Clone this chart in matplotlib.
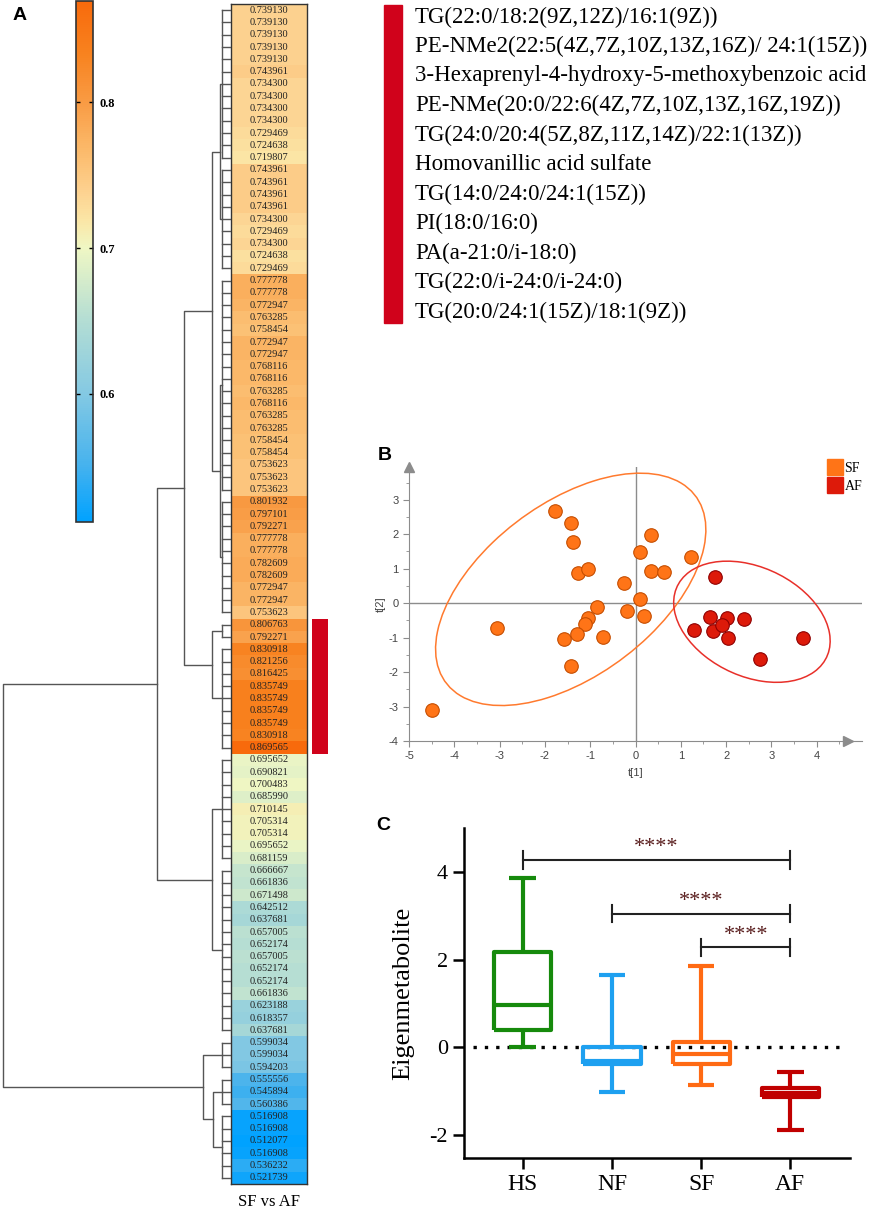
import numpy as np
import matplotlib.pyplot as plt
from matplotlib.colors import LinearSegmentedColormap, Normalize
from matplotlib.cm import ScalarMappable
from matplotlib.patches import Ellipse, Rectangle
from matplotlib.lines import Line2D

plt.rcParams['axes.unicode_minus'] = False

W, H = 872, 1211
SERIF = ['Liberation Serif', 'DejaVu Serif']
SANS = ['Liberation Sans', 'DejaVu Sans']

# ---- data -------------------------------------------------------------
# heatmap column (SF vs AF), top to bottom
values = [0.739130, 0.739130, 0.739130, 0.739130, 0.739130, 0.743961, 0.734300,
          0.734300, 0.734300, 0.734300, 0.729469, 0.724638, 0.719807, 0.743961,
          0.743961, 0.743961, 0.743961, 0.734300, 0.729469, 0.734300, 0.724638,
          0.729469, 0.777778, 0.777778, 0.772947, 0.763285, 0.758454, 0.772947,
          0.772947, 0.768116, 0.768116, 0.763285, 0.768116, 0.763285, 0.763285,
          0.758454, 0.758454, 0.753623, 0.753623, 0.753623, 0.801932, 0.797101,
          0.792271, 0.777778, 0.777778, 0.782609, 0.782609, 0.772947, 0.772947,
          0.753623, 0.806763, 0.792271, 0.830918, 0.821256, 0.816425, 0.835749,
          0.835749, 0.835749, 0.835749, 0.830918, 0.869565, 0.695652, 0.690821,
          0.700483, 0.685990, 0.710145, 0.705314, 0.705314, 0.695652, 0.681159,
          0.666667, 0.661836, 0.671498, 0.642512, 0.637681, 0.657005, 0.652174,
          0.657005, 0.652174, 0.652174, 0.661836, 0.623188, 0.618357, 0.637681,
          0.599034, 0.599034, 0.594203, 0.555556, 0.545894, 0.560386, 0.516908,
          0.516908, 0.512077, 0.516908, 0.536232, 0.521739]

# leaf groups of the row dendrogram (start, stop) and the merge tree
groups = {'A': (0, 13), 'B': (13, 22), 'C': (22, 40), 'D': (40, 50),
          'E1': (50, 52), 'E2': (52, 61), 'F': (61, 70), 'G': (70, 84),
          'H': (84, 87), 'I': (87, 90), 'J': (90, 96)}
comb_height = 9
tree = (228, (74, (47, (19, (11, 'A', 'B'), (11, 'C', 'D')), (19, 'E1', 'E2')),
              (19, 'F', 'G')),
        (28, 'H', (18, 'I', 'J')))
highlight = (50, 61)

metabolites = ['TG(22:0/18:2(9Z,12Z)/16:1(9Z))',
               'PE-NMe2(22:5(4Z,7Z,10Z,13Z,16Z)/ 24:1(15Z))',
               '3-Hexaprenyl-4-hydroxy-5-methoxybenzoic acid',
               'PE-NMe(20:0/22:6(4Z,7Z,10Z,13Z,16Z,19Z))',
               'TG(24:0/20:4(5Z,8Z,11Z,14Z)/22:1(13Z))',
               'Homovanillic acid sulfate',
               'TG(14:0/24:0/24:1(15Z))',
               'PI(18:0/16:0)',
               'PA(a-21:0/i-18:0)',
               'TG(22:0/i-24:0/i-24:0)',
               'TG(20:0/24:1(15Z)/18:1(9Z))']

# PCA scores
sf_x = [-4.50, -3.05, -1.78, -1.42, -1.37, -1.27, -1.05, -0.85, -0.18, 0.10, 0.35,
        0.35, 0.62, 1.22, -0.25, 0.11, 0.18, -1.05, -1.12, -1.30, -1.58, -1.42, -0.72]
sf_y = [-3.10, -0.72, 2.68, 2.33, 1.78, 0.88, 1.00, -0.10, -0.24, 1.47, 1.97,
        0.93, 0.90, 1.35, 0.58, 0.11, -0.37, -0.42, -0.60, -0.90, -1.05, -1.82, -0.97]
af_x = [1.75, 1.65, 2.03, 2.40, 1.30, 1.72, 1.92, 2.05, 2.75, 3.70]
af_y = [0.75, -0.40, -0.44, -0.45, -0.78, -0.80, -0.62, -1.00, -1.62, -1.00]
# confidence ellipses: centre, width, height, angle
sf_ell = ((-1.43, 0.40), 7.86, 4.39, 51.7)
af_ell = ((2.57, -0.54), 4.00, 2.88, -46.6)

# eigenmetabolite box plot
groups_c = ['HS', 'NF', 'SF', 'AF']
c_colors = ['#168a0c', '#1ea0f0', '#ff6a13', '#c00000']
c_q1 = [0.40, -0.38, -0.38, -1.12]
c_med = [0.97, -0.30, -0.15, -1.03]
c_q3 = [2.18, 0.02, 0.12, -0.93]
c_lo = [0.00, -1.02, -0.85, -1.88]
c_hi = [3.85, 1.65, 1.85, -0.55]
comparisons = [(0, 3, 4.27), (1, 3, 3.05), (2, 3, 2.28)]

# ---- figure -----------------------------------------------------------
fig = plt.figure(figsize=(W / 100, H / 100), dpi=100)


def box(x0, y0, x1, y1):
    return [x0 / W, 1 - y1 / H, (x1 - x0) / W, (y1 - y0) / H]


cmap = LinearSegmentedColormap.from_list('sfaf', [
    (0.0, '#00a2ff'), (0.106, '#45b2ee'), (0.246, '#84c9e3'), (0.385, '#b3ddd4'),
    (0.525, '#eff7c4'), (0.58, '#fbe6a6'), (0.634, '#fdd290'), (0.72, '#fbb868'),
    (0.804, '#f99c45'), (0.9, '#f8821f'), (1.0, '#f86a0c')])
norm = Normalize(min(values), max(values))
n = len(values)

# heatmap
ax_h = fig.add_axes(box(231, 4, 307, 1184))
ax_h.imshow(np.array(values)[:, None], cmap=cmap, norm=norm, aspect='auto',
            extent=(0, 1, n, 0), interpolation='nearest')
for i, v in enumerate(values):
    ax_h.text(0.5, i + 0.5, f'{v:.6f}', ha='center', va='center', fontsize=7.5,
              family=SERIF, color='#222222')
ax_h.set_xlim(0, 1)
ax_h.set_ylim(n, 0)
ax_h.set_xticks([])
ax_h.set_yticks([])
for s in ax_h.spines.values():
    s.set_color('#333333')
    s.set_linewidth(1)
fig.text(269 / W, 1 - 1202 / H, 'SF vs AF', ha='center', va='center',
         fontsize=12, family=SERIF)

# dendrogram
ax_d = fig.add_axes(box(0, 4, 231, 1184))
ax_d.set_xlim(231, 0)
ax_d.set_ylim(n, 0)
ax_d.axis('off')
lc = dict(color='#555555', lw=1)


def draw(node):
    if isinstance(node, str):
        a, b = groups[node]
        ys = np.arange(a, b) + 0.5
        for y in ys:
            ax_d.plot([0, comb_height], [y, y], **lc)
        ax_d.plot([comb_height, comb_height], [ys[0], ys[-1]], **lc)
        return comb_height, ys.mean()
    h, left, right = node
    hl, yl = draw(left)
    hr, yr = draw(right)
    ax_d.plot([hl, h, h, hr], [yl, yl, yr, yr], **lc)
    return h, (yl + yr) / 2


draw(tree)

# highlight bar next to the heatmap
ax_r = fig.add_axes(box(312, 4, 328, 1184))
a, b = highlight
ax_r.barh((a + b) / 2, 1, height=b - a, color='#d0021b', left=0)
ax_r.set_xlim(0, 1)
ax_r.set_ylim(n, 0)
ax_r.axis('off')

# colorbar
ax_cb = fig.add_axes(box(76, 1, 93, 522))
cb = fig.colorbar(ScalarMappable(norm=norm, cmap=cmap), cax=ax_cb, ticks=[0.6, 0.7, 0.8])
cb.outline.set_linewidth(1.2)
cb.outline.set_edgecolor('#333333')
ax_cb.tick_params(left=True, right=True, direction='in', length=3, width=1, pad=5)
ax_cb.set_yticklabels(['0.6', '0.7', '0.8'], fontsize=9, family=SERIF, fontweight='bold')

# metabolite list
ax_t = fig.add_axes(box(380, 0, 872, 330))
ax_t.set_xlim(0, 492)
ax_t.set_ylim(330, 0)
ax_t.axis('off')
ax_t.add_patch(Rectangle((4, 5), 18, 318, color='#d0021b'))
for i, name in enumerate(metabolites):
    ax_t.text(35, 17 + i * 29.5, name, va='center', ha='left', fontsize=16.5,
              family=SERIF)

# ---- panel B: PCA ------------------------------------------------------
ax_b = fig.add_axes(box(409, 467, 862, 741))
ax_b.set_xlim(-5, 5)
ax_b.set_ylim(-4, 3.95)
grey = '#8c8c8c'
for k in ['top', 'right']:
    ax_b.spines[k].set_visible(False)
for k in ['left', 'bottom']:
    ax_b.spines[k].set_color(grey)
ax_b.axhline(0, color=grey, lw=1, zorder=1)
ax_b.axvline(0, color=grey, lw=1, zorder=1)
ax_b.plot(0, 1, '^', color=grey, ms=7, transform=ax_b.transAxes, clip_on=False)
ax_b.plot(0.97, 0, '>', color=grey, ms=7, transform=ax_b.transAxes, clip_on=False)
ax_b.set_xticks(np.arange(-5, 5))
ax_b.set_yticks(np.arange(-4, 4))
ax_b.set_xticks(np.arange(-5, 4.6, 0.5), minor=True)
ax_b.set_yticks(np.arange(-4, 3.6, 0.5), minor=True)
ax_b.tick_params(which='both', color=grey, labelcolor='#444444', labelsize=8)
ax_b.tick_params(which='major', length=4)
ax_b.tick_params(which='minor', length=2)
for lab in ax_b.get_xticklabels() + ax_b.get_yticklabels():
    lab.set_family(SANS)
ax_b.set_xlabel('t[1]', fontsize=8, family=SANS, color='#444444', labelpad=5)
ax_b.set_ylabel('t[2]', fontsize=8, family=SANS, color='#444444', labelpad=2)
for (cxy, w, h, ang), col in [(sf_ell, '#ff7a2e'), (af_ell, '#e8302a')]:
    ax_b.add_patch(Ellipse(cxy, w, h, angle=ang, fill=False, ec=col, lw=1.1, zorder=2))
ax_b.scatter(sf_x, sf_y, s=95, c='#ff7417', edgecolors='#c54d00', linewidths=0.8, zorder=3)
ax_b.scatter(af_x, af_y, s=95, c='#dd1a0a', edgecolors='#8f0000', linewidths=0.8, zorder=3)
handles = [Line2D([], [], ls='', marker='s', ms=11.5, color='#ff7417'),
           Line2D([], [], ls='', marker='s', ms=11.5, color='#dd1a0a')]
fig.legend(handles, ['SF', 'AF'], loc='upper right', bbox_to_anchor=(872 / W, 1 - 452 / H),
           frameon=False, prop={'family': SERIF, 'size': 10}, handletextpad=0.1,
           labelspacing=0.35, borderpad=0.2, handlelength=1.2)

# ---- panel C: box plot -------------------------------------------------
ax_c = fig.add_axes(box(464, 828, 850, 1158))
stats = [dict(med=m, q1=q1, q3=q3, whislo=lo, whishi=hi, label=g)
         for g, q1, m, q3, lo, hi in zip(groups_c, c_q1, c_med, c_q3, c_lo, c_hi)]
bp = ax_c.bxp(stats, positions=range(4), widths=0.64, capwidths=0.3,
              showfliers=False, patch_artist=False)
for i, col in enumerate(c_colors):
    for art in [bp['boxes'][i], bp['medians'][i], bp['whiskers'][2 * i],
                bp['whiskers'][2 * i + 1], bp['caps'][2 * i], bp['caps'][2 * i + 1]]:
        art.set_color(col)
        art.set_linewidth(3)
        art.set_solid_capstyle('butt')
ax_c.set_xlim(-0.66, 3.67)
ax_c.set_ylim(-2.52, 5)
ax_c.axhline(0, xmin=0.023, xmax=0.98, color='black', lw=2.4, ls=(0, (1, 2.4)), zorder=0)
for a, b, y in comparisons:
    ax_c.plot([a, b], [y, y], color='#222222', lw=1.5)
    for x in (a, b):
        ax_c.plot([x, x], [y - 0.2, y + 0.2], color='#222222', lw=1.5)
    ax_c.text((a + b) / 2, y + 0.06, '****', ha='center', va='bottom', fontsize=16,
              family=SERIF, color='#5a1e1e')
ax_c.spines['top'].set_visible(False)
ax_c.spines['right'].set_visible(False)
for k in ['left', 'bottom']:
    ax_c.spines[k].set_linewidth(1.8)
ax_c.set_yticks([-2, 0, 2, 4])
ax_c.set_xticks(range(4))
ax_c.set_xticklabels(groups_c)
ax_c.tick_params(length=8, width=1.8)
ax_c.tick_params(axis='y', labelsize=16)
ax_c.tick_params(axis='x', labelsize=17)
for lab in ax_c.get_xticklabels() + ax_c.get_yticklabels():
    lab.set_family(SERIF)
ax_c.set_ylabel('Eigenmetabolite', fontsize=19, family=SERIF)
ax_c.yaxis.set_label_coords((414 - 464) / 386, 0.5)

# panel letters
for letter, (px, py) in {'A': (20, 15), 'B': (385, 455), 'C': (383, 825)}.items():
    fig.text(px / W, 1 - py / H, letter, ha='center', va='center', fontsize=14,
             fontweight='bold', family=SANS)

fig.savefig('out.png', dpi=100)
